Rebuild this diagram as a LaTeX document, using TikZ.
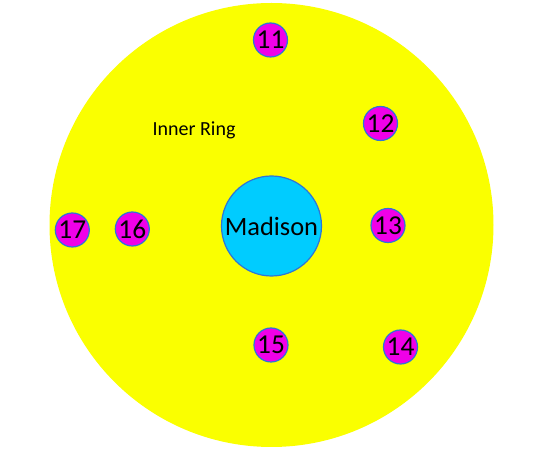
\documentclass[tikz,border=0pt]{standalone}
\usepackage{fontspec}
\setmainfont{Carlito}
\definecolor{ringyellow}{HTML}{FAFF00}
\definecolor{mag}{HTML}{F000E8}
\definecolor{cyanfill}{HTML}{00CCFF}
\definecolor{edgeblue}{HTML}{2E75D6}
\begin{document}
\begin{tikzpicture}[x=0.75pt,y=-0.75pt,
  ringstyle/.style={circle,fill=ringyellow,draw=none,minimum size=333pt,inner sep=0pt},
  center/.style={circle,fill=cyanfill,draw=edgeblue,line width=0.9pt,minimum size=75pt,inner sep=0pt,font=\fontsize{19.8pt}{22pt}\selectfont},
  member/.style={circle,fill=mag,draw=edgeblue,line width=0.9pt,minimum size=25.5pt,inner sep=0pt,font=\fontsize{20.5pt}{22pt}\selectfont},
  lbl/.style={font=\fontsize{15pt}{17pt}\selectfont,inner sep=0pt}]
\useasboundingbox (0,0) rectangle (540,452);
\node[ringstyle] (ring) at (271.5,225) {};
\node[center] (madison) at (271.5,226) {Madison};
\node[member] (n11) at (270.5,40) {11};
\node[member] (n12) at (380.5,123.5) {12};
\node[member] (n13) at (388,225.5) {13};
\node[member] (n14) at (400.5,347) {14};
\node[member] (n15) at (271,345) {15};
\node[member] (n16) at (132.3,229) {16};
\node[member] (n17) at (72.3,230) {17};
\node[lbl] (inner) at (194,130) {Inner Ring};
\end{tikzpicture}
\end{document}
